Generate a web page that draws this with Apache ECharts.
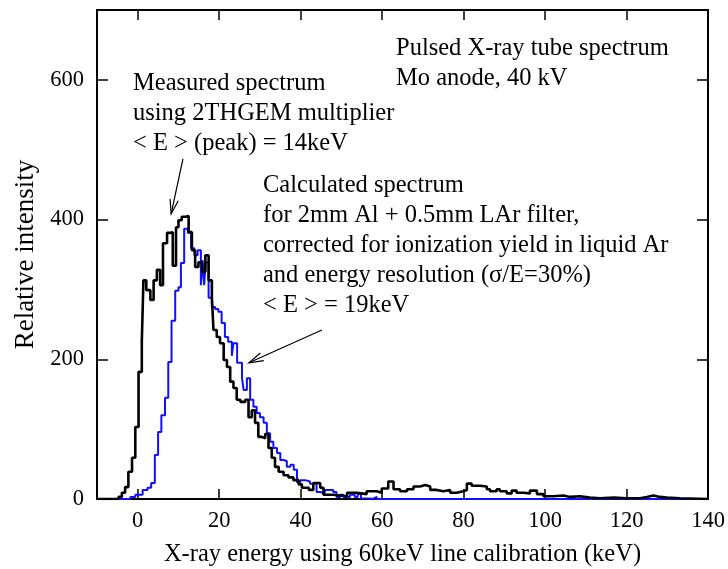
<!DOCTYPE html>
<html>
<head>
<meta charset="utf-8">
<script src="https://cdn.jsdelivr.net/npm/echarts@6/dist/echarts.min.js"></script>
<style>
  html, body { margin: 0; padding: 0; background: #fff; }
  #chart { width: 728px; height: 569px; }
</style>
</head>
<body>
<div id="chart"></div>
<script>
// measured spectrum (2THGEM), left bin edges in keV and heights
const measuredEnergy = [-10, -4.7, -3.9, -3.1, -2.3, -1.4, -0.6, 0.2, 1.0, 1.4, 2.1, 3.1, 3.9, 4.7, 5.5, 6.2, 7.2, 8.0, 8.6, 9.4,
  10.0, 10.8, 11.7, 12.5, 13.3, 14.1, 14.9, 15.8, 16.6, 17.4, 18.2, 18.6, 19.4, 20.2, 21.1, 21.9, 22.7, 23.5, 24.3, 25.2,
  26.4, 27.2, 28.0, 28.8, 29.6, 30.5, 31.3, 32.1, 32.9, 33.7, 34.6, 35.8, 37.0, 38.2, 39.5, 40.3, 42.0, 43.1, 44.8, 45.6,
  48.0, 51.4, 53.8, 56.2, 58.7, 59.9, 61.5, 62.8, 64.4, 66.1, 67.7, 69.3, 70.6, 71.8, 73.4, 75.0, 76.7, 78.3, 79.9, 80.8,
  82.0, 84.0, 85.7, 86.5, 88.1, 88.9, 90.6, 91.8, 93.0, 94.7, 96.3, 98.0, 99.6, 102.0, 104.5, 106.1, 108.6, 111.0, 113.5, 116.9,
  120.0, 123.3, 125.0, 126.6, 128.2, 129.9, 133.1, 140]
const measuredIntensity = [0, 3, 9, 17, 39, 59, 103, 182, 225, 313, 299, 285, 313, 328, 306, 366, 381, 382, 334, 389,
  399, 404, 405, 382, 356, 332, 339, 325, 349, 313, 289, 242, 232, 223, 199, 189, 168, 159, 142, 139,
  142, 117, 127, 109, 89, 87, 93, 73, 59, 46, 39, 34, 31, 27, 21, 16, 13, 23, 16, 6,
  4, 9, 7, 11, 9, 15, 25, 14, 11, 14, 18, 20, 18, 13, 11, 13, 9, 11, 13, 22,
  19, 18, 14, 11, 14, 11, 8, 12, 9, 8, 12, 7, 4, 5, 3, 4, 2, 1, 2, 1,
  1, 3, 5, 3, 2, 1, 0, 0]

// calculated spectrum (Al + LAr filter, sigma/E = 30%)
const calcEnergy = [-10, -1.8, -0.6, 1.2, 2.4, 3.3, 4.2, 5.0, 5.8, 6.7, 7.5, 8.3, 9.2, 10.0, 10.6, 11.4, 12.3, 13.1, 13.9, 14.7,
  15.5, 15.9, 16.3, 16.7, 17.4, 18.2, 19.0, 19.8, 20.6, 21.4, 22.2, 23.1, 23.5, 24.4, 25.6, 26.0, 26.8, 27.6, 28.4, 29.2,
  30.0, 30.9, 31.7, 32.5, 33.3, 34.2, 35.0, 35.8, 36.6, 37.5, 38.3, 39.1, 39.9, 41.1, 42.3, 43.9, 44.8, 45.9, 48.0, 48.8,
  49.7, 50.5, 52.1, 53.3, 54.0, 54.8, 55.2, 57.9, 58.7, 140]
const calcIntensity = [0, 3, 6, 13, 16, 23, 63, 96, 120, 145, 196, 255, 298, 303, 338, 387, 381, 359, 349, 356,
  306, 342, 306, 339, 288, 275, 272, 268, 252, 232, 225, 205, 223, 195, 173, 156, 173, 142, 132, 123,
  117, 109, 94, 82, 73, 66, 56, 54, 46, 49, 42, 24, 27, 25, 22, 10, 8, 13, 10, 3,
  6, 3, 6, 3, 7, 1, 0.5, 3, 0, 0]

const xTicks = [0, 20, 40, 60, 80, 100, 120, 140]
const yTicks = [0, 200, 400, 600]

// arrows: [from, to] in data coordinates
const arrowMeasured = [[11.1, 487], [8.2, 408]]
const arrowCalc = [[45.2, 242], [27.3, 195]]

const font = '"Liberation Serif", "Times New Roman", serif'

function toPairs(xs, ys) {
  return xs.map((x, i) => [x, ys[i]])
}

const frameLine = { show: true, onZero: false, lineStyle: { color: '#000', width: 2 } }

const chart = echarts.init(document.getElementById('chart'))
chart.setOption({
  animation: false,
  backgroundColor: '#fff',
  // fixed plot box, don't let v6 shrink it to fit the axis names
  grid: { left: 97, right: 20, top: 10, bottom: 70, outerBoundsMode: 'none' },
  xAxis: [
    {
      type: 'value',
      min: -10,
      max: 140,
      name: 'X-ray energy using 60keV line calibration (keV)',
      nameLocation: 'middle',
      nameGap: 43,
      nameTextStyle: { fontFamily: font, fontSize: 24.5, color: '#000' },
      axisLine: frameLine,
      axisTick: { inside: true, length: 10, customValues: xTicks, lineStyle: { color: '#000', width: 1.5 } },
      axisLabel: { customValues: xTicks, margin: 11, fontFamily: font, fontSize: 22.5, color: '#000' },
      splitLine: { show: false }
    },
    {
      type: 'value',
      position: 'top',
      min: -10,
      max: 140,
      axisLine: frameLine,
      axisTick: { inside: true, length: 10, customValues: xTicks, lineStyle: { color: '#000', width: 1.5 } },
      axisLabel: { show: false },
      splitLine: { show: false }
    }
  ],
  yAxis: [
    {
      type: 'value',
      min: 0,
      max: 700,
      name: 'Relative intensity',
      nameLocation: 'middle',
      nameGap: 55,
      nameTextStyle: { fontFamily: font, fontSize: 27, color: '#000' },
      axisLine: frameLine,
      axisTick: { inside: true, length: 11, customValues: yTicks, lineStyle: { color: '#000', width: 1.5 } },
      axisLabel: { customValues: yTicks, margin: 13, fontFamily: font, fontSize: 22.5, color: '#000' },
      splitLine: { show: false }
    },
    {
      type: 'value',
      position: 'right',
      min: 0,
      max: 700,
      axisLine: frameLine,
      axisTick: { inside: true, length: 11, customValues: yTicks, lineStyle: { color: '#000', width: 1.5 } },
      axisLabel: { show: false },
      splitLine: { show: false }
    }
  ],
  series: [
    {
      name: 'Calculated',
      type: 'line',
      step: 'end',
      showSymbol: false,
      data: toPairs(calcEnergy, calcIntensity),
      lineStyle: { color: '#1010ff', width: 2 }
    },
    {
      name: 'Measured',
      type: 'line',
      step: 'end',
      showSymbol: false,
      data: toPairs(measuredEnergy, measuredIntensity),
      lineStyle: { color: '#000', width: 2.6 }
    }
  ]
})

// open arrowhead drawn at the 'to' end
function arrowGraphic(arrow) {
  const a = chart.convertToPixel({ seriesIndex: 0 }, arrow[0])
  const b = chart.convertToPixel({ seriesIndex: 0 }, arrow[1])
  const ang = Math.atan2(a[1] - b[1], a[0] - b[0])
  const len = 15, spread = 0.28
  const l = [b[0] + len * Math.cos(ang + spread), b[1] + len * Math.sin(ang + spread)]
  const r = [b[0] + len * Math.cos(ang - spread), b[1] + len * Math.sin(ang - spread)]
  const st = { stroke: '#000', lineWidth: 1.2, fill: null }
  return [
    { type: 'polyline', shape: { points: [a, b] }, style: st, silent: true },
    { type: 'polyline', shape: { points: [l, b, r] }, style: st, silent: true }
  ]
}

function label(x, y, text) {
  return {
    type: 'text',
    x: x,
    y: y,
    silent: true,
    style: { text: text, font: '24.5px ' + font, fill: '#000', lineHeight: 30, verticalAlign: 'top' }
  }
}

chart.setOption({
  graphic: [
    label(133, 69, 'Measured spectrum\nusing 2THGEM multiplier\n< E > (peak) = 14keV'),
    label(263, 171, 'Calculated spectrum\nfor 2mm Al + 0.5mm LAr filter,\ncorrected for ionization yield in liquid Ar\nand energy resolution (σ/E=30%)\n< E > = 19keV'),
    label(396, 34, 'Pulsed X-ray tube spectrum\nMo anode, 40 kV')
  ].concat(arrowGraphic(arrowMeasured), arrowGraphic(arrowCalc))
})
</script>
</body>
</html>
